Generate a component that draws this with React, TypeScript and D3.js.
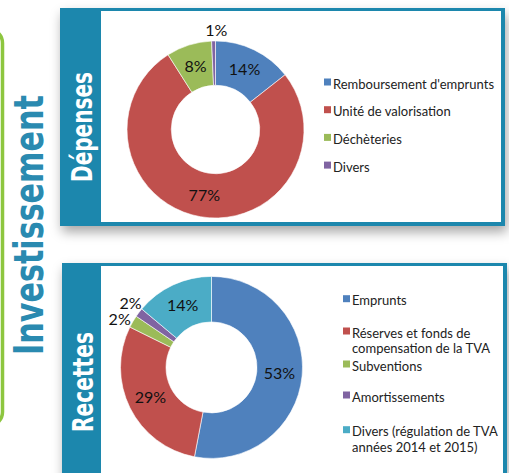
import React from "react";
import * as d3 from "d3";

const depLabels = ["Remboursement d'emprunts", "Unité de valorisation", "Déchèteries", "Divers"];
const depValues = [14.4, 76.6, 8.3, 0.7];
const depColors = ["#4f81bd", "#c0504d", "#9bbb59", "#8064a2"];
const depOutside = [false, false, false, true];
const depNudge = [[0, 0], [0, 0], [0, 0], [3, 2]];

const recLabels = [
  ["Emprunts"],
  ["Réserves et fonds de", "compensation de la TVA"],
  ["Subventions"],
  ["Amortissements"],
  ["Divers (régulation de TVA", "années 2014 et 2015)"],
];
const recValues = [53.0, 29.3, 2.2, 1.6, 13.9];
const recColors = ["#4f81bd", "#c0504d", "#9bbb59", "#8064a2", "#4bacc6"];
const recOutside = [false, false, true, true, false];
const recNudge = [[0, 0], [0, 0], [-2, 4], [2, -1], [0, 0]];

const TEAL = "#1f87ad";
const LABEL_FONT = "Lato, 'Open Sans', sans-serif";
const TITLE_FONT = "'DejaVu Sans Condensed', 'DejaVu Sans', sans-serif";

function Donut({ cx, cy, r, values, colors, outside, nudge }: any) {
  const pie = d3.pie<number>().sort(null).value((d) => d)(values);
  const arc = d3.arc<any>().innerRadius(r * 0.5).outerRadius(r);
  const outerArc = d3.arc<any>().innerRadius(r + 13).outerRadius(r + 13);
  return (
    <g transform={`translate(${cx},${cy})`}>
      {pie.map((p, i) => (
        <path key={i} d={arc(p) as string} fill={colors[i]} stroke="#fff" strokeWidth={0.6} />
      ))}
      {pie.map((p, i) => {
        const [x, y] = outside[i] ? outerArc.centroid(p) : arc.centroid(p);
        return (
          <text key={"t" + i} x={x + nudge[i][0]} y={y + nudge[i][1]} dy="0.35em" textAnchor="middle" fontFamily={LABEL_FONT} fontSize={16} fill="#111">
            {d3.format(".0f")(p.data)}%
          </text>
        );
      })}
    </g>
  );
}

export default function App() {
  return (
    <svg width={509} height={473} style={{ position: "absolute", left: 0, top: 0, background: "#fff" }}>
      <defs>
        <filter id="sh" x="-10%" y="-10%" width="130%" height="140%">
          <feDropShadow dx={2} dy={6} stdDeviation={6} floodColor="#000" floodOpacity={0.35} />
        </filter>
      </defs>
      <rect x={0} y={0} width={509} height={473} fill="#fff" />
      {/* green frame */}
      <rect x={-30} y={29} width={32.5} height={397} rx={14} fill="none" stroke="#8dc63f" strokeWidth={3.5} />
      <text
        transform="translate(43,225) rotate(-90)"
        textAnchor="middle"
        fontFamily={TITLE_FONT}
        fontWeight="bold"
        fontSize={40}
        fill="#2a8ab0"
        textLength={260}
        lengthAdjust="spacingAndGlyphs"
      >
        Investissement
      </text>

      {/* top panel */}
      <rect x={60} y={8} width={445} height={218} fill={TEAL} filter="url(#sh)" />
      <rect x={101} y={11} width={400} height={211} fill="#fff" />
      <text
        transform="translate(92,127) rotate(-90)"
        textAnchor="middle"
        fontFamily={TITLE_FONT}
        fontWeight="bold"
        fontSize={28}
        fill="#fff"
        textLength={110}
        lengthAdjust="spacingAndGlyphs"
      >
        Dépenses
      </text>
      <Donut cx={215.5} cy={129.5} r={88.5} values={depValues} colors={depColors} outside={depOutside} nudge={depNudge} />
      {depLabels.map((l, i) => (
        <g key={l} transform={`translate(324,${84 + i * 27.7})`}>
          <rect x={0} y={-5.5} width={7} height={7} fill={depColors[i]} />
          <text x={9} y={0} dy="0.35em" fontFamily={LABEL_FONT} fontSize={13} fill="#222">
            {l}
          </text>
        </g>
      ))}

      {/* bottom panel */}
      <rect x={62} y={263} width={445} height={230} fill={TEAL} filter="url(#sh)" />
      <rect x={101} y={266} width={402} height={220} fill="#fff" />
      <text
        transform="translate(92.5,382) rotate(-90)"
        textAnchor="middle"
        fontFamily={TITLE_FONT}
        fontWeight="bold"
        fontSize={28}
        fill="#fff"
        textLength={100}
        lengthAdjust="spacingAndGlyphs"
      >
        Recettes
      </text>
      <Donut cx={211.5} cy={367.4} r={91} values={recValues} colors={recColors} outside={recOutside} nudge={recNudge} />
      {recLabels.map((lines, i) => {
        const ys = [300.7, 333, 366, 397, 431.7];
        return (
          <g key={i} transform={`translate(343,${ys[i]})`}>
            <rect x={0} y={-5.5} width={7} height={7} fill={recColors[i]} />
            {lines.map((t, j) => (
              <text key={j} x={9} y={j * 15.5} dy="0.35em" fontFamily={LABEL_FONT} fontSize={13} fill="#222">
                {t}
              </text>
            ))}
          </g>
        );
      })}
    </svg>
  );
}
